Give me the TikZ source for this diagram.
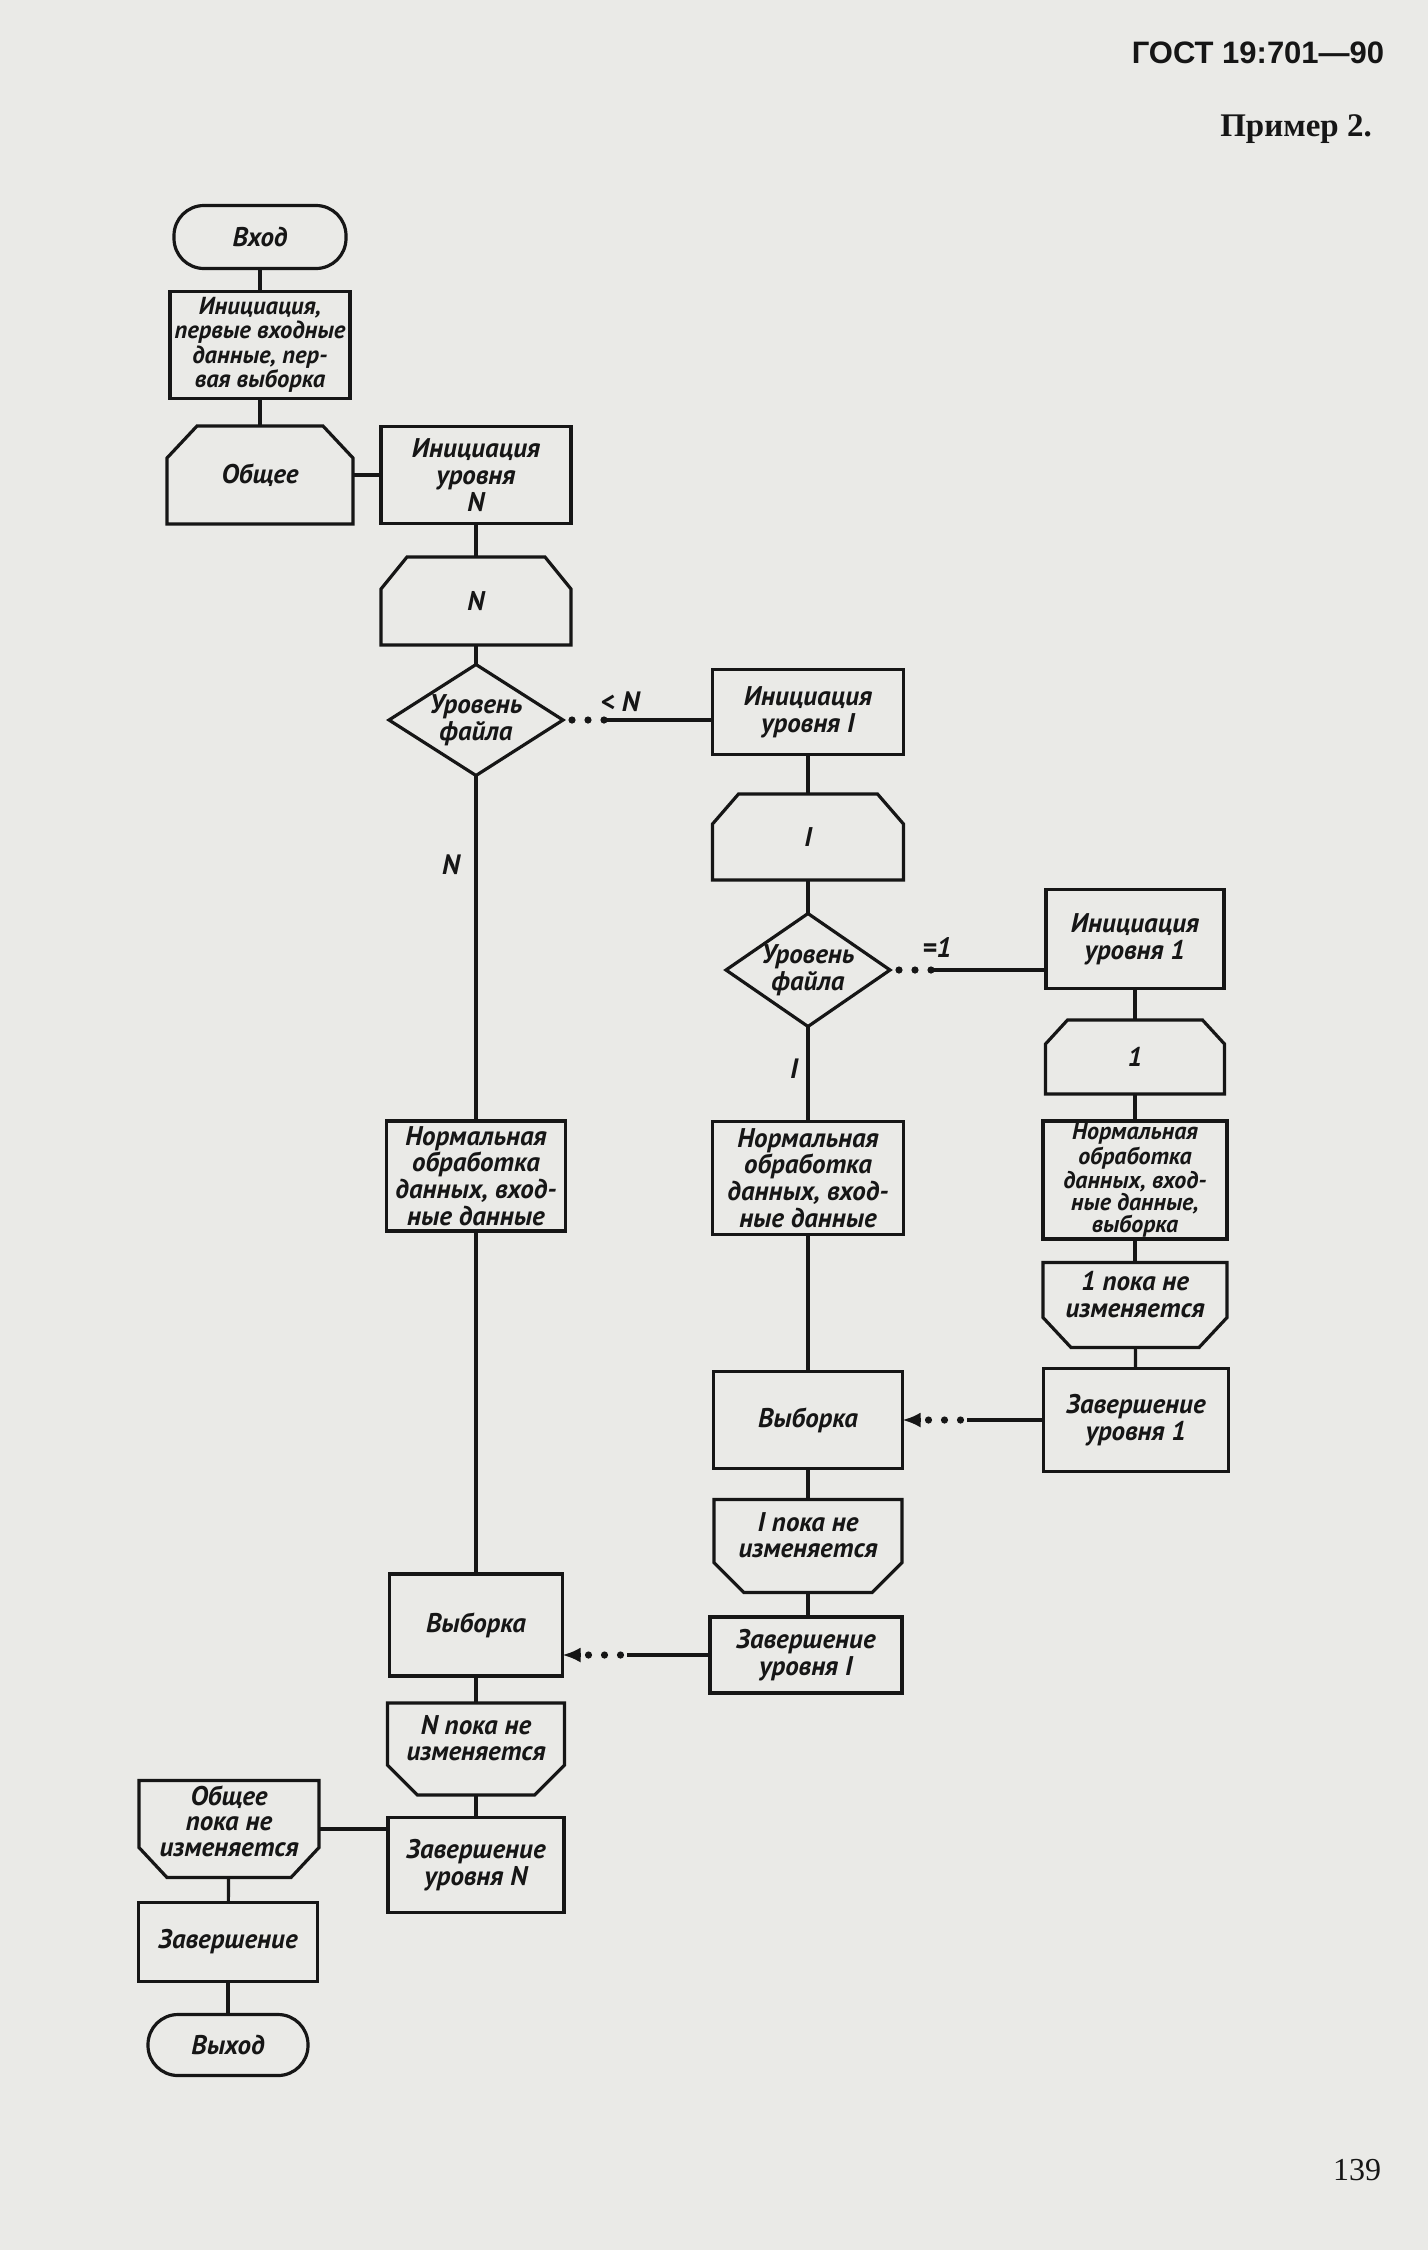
\documentclass[tikz,border=0pt]{standalone}
\usepackage{fontspec}
\setmainfont{PT Sans}
\newfontfamily\hdrsans{Liberation Sans}
\newfontfamily\hdrserif{Liberation Serif}
\usetikzlibrary{arrows.meta,calc}
\definecolor{paper}{RGB}{234,234,231}
\definecolor{ink}{RGB}{22,22,22}
\tikzset{
  base/.style={inner sep=1pt, outer sep=0pt, align=center, text=ink,
    font=\bfseries\itshape\fontsize{13.5}{13.4}\selectfont},
  box/.style={base, draw=ink, line width=1.6pt},
  plain/.style={base},
  endtxt/.style={text depth=11pt},
  term/.style={base, draw=ink, line width=1.6pt, rounded corners=15pt},
  outl/.style={draw=ink, line width=1.6pt, line join=miter},
  conn/.style={draw=ink, line width=1.6pt},
  dots/.style={draw=ink, line width=3.6pt, line cap=round, dash pattern=on 0pt off 8pt},
  lab/.style={text=ink, font=\bfseries\itshape\fontsize{14}{12}\selectfont},
  tip/.style={-{Latex[length=9pt,width=7.5pt]}}
}
\newcommand{\chtop}[3]{\draw[outl] ([yshift=-#3]#1.north west) -- ([xshift=#2]#1.north west) -- ([xshift=-#2]#1.north east) -- ([yshift=-#3]#1.north east) -- (#1.south east) -- (#1.south west) -- cycle;}
\newcommand{\chbot}[3]{\draw[outl] (#1.north west) -- (#1.north east) -- ([yshift=#3]#1.south east) -- ([xshift=-#2]#1.south east) -- ([xshift=#2]#1.south west) -- ([yshift=#3]#1.south west) -- cycle;}
\newcommand{\mkdiamond}[1]{\draw[outl] (#1.north) -- (#1.east) -- (#1.south) -- (#1.west) -- cycle;}
\begin{document}
\begin{tikzpicture}[x=0.5pt,y=-0.5pt]
\fill[paper] (0,0) rectangle (1428,2250);
\useasboundingbox (0,0) rectangle (1428,2250);

% header
\node[text=ink, font=\hdrsans\bfseries\fontsize{15.5}{18}\selectfont] (gost) at (1258,53) {ГОСТ 19:701—90};
\node[text=ink, font=\hdrserif\bfseries\fontsize{16.5}{19}\selectfont] (ex) at (1296,129) {Пример 2.};
\node[text=ink, font=\hdrserif\fontsize{16}{19}\selectfont] (pg) at (1357,2170) {139};

% left column
\node[term, minimum width=86pt, minimum height=31.5pt] (vhod) at (260,237) {Вход};
\node[box, minimum width=90pt, minimum height=53.5pt, font=\bfseries\itshape\fontsize{12.3}{12.2}\selectfont] (init) at (260,345) {Инициация,\\первые входные\\данные, пер-\\вая выборка};
\node[plain, minimum width=93pt, minimum height=49pt] (obsh) at (260,475) {Общее};
\chtop{obsh}{15pt}{16pt}

% column N
\node[box, minimum width=95pt, minimum height=48.5pt] (initN) at (476,475) {Инициация\\уровня\\N};
\node[plain, minimum width=95pt, minimum height=44pt] (loopN) at (476,601) {N};
\chtop{loopN}{13pt}{16pt}
\node[plain, minimum width=87pt, minimum height=55.5pt] (dia1) at (476,720) {Уровень\\файла};
\mkdiamond{dia1}
\node[box, minimum width=89.5pt, minimum height=55pt] (normN) at (476,1176) {Нормальная\\обработка\\данных, вход-\\ные данные};
\node[box, minimum width=86.5pt, minimum height=51pt] (vybN) at (476,1625) {Выборка};
\node[plain, endtxt, minimum width=88.5pt, minimum height=46pt] (endN) at (476,1749) {N пока не\\изменяется};
\chbot{endN}{15pt}{15pt}
\node[box, minimum width=88pt, minimum height=47.5pt] (zavN) at (476,1865) {Завершение\\уровня N};

% column I
\node[box, minimum width=95.5pt, minimum height=42.5pt] (initI) at (808,712) {Инициация\\уровня I};
\node[plain, minimum width=95.5pt, minimum height=43pt] (loopI) at (808,837) {I};
\chtop{loopI}{13pt}{15pt}
\node[plain, minimum width=82pt, minimum height=56.5pt] (dia2) at (808,970) {Уровень\\файла};
\mkdiamond{dia2}
\node[box, minimum width=95.5pt, minimum height=56.5pt] (normI) at (808,1178) {Нормальная\\обработка\\данных, вход-\\ные данные};
\node[box, minimum width=94.5pt, minimum height=48.5pt] (vybI) at (808,1420) {Выборка};
\node[plain, endtxt, minimum width=94pt, minimum height=46.5pt] (endI) at (808,1546) {I пока не\\изменяется};
\chbot{endI}{15pt}{15pt}
\node[box, minimum width=96pt, minimum height=38pt] (zavI) at (806,1655) {Завершение\\уровня I};

% column 1
\node[box, minimum width=89pt, minimum height=49.5pt] (init1) at (1135,939) {Инициация\\уровня 1};
\node[plain, minimum width=89.5pt, minimum height=37pt] (loop1) at (1135,1057) {1};
\chtop{loop1}{11pt}{12pt}
\node[box, minimum width=92pt, minimum height=56.5pt, font=\bfseries\itshape\fontsize{12}{11}\selectfont] (norm1) at (1135,1180) {Нормальная\\обработка\\данных, вход-\\ные данные,\\выборка};
\node[plain, endtxt, minimum width=92pt, minimum height=42.5pt] (end1) at (1135,1305) {1 пока не\\изменяется};
\chbot{end1}{14pt}{15pt}
\node[box, minimum width=92.5pt, minimum height=51.5pt] (zav1) at (1136,1420) {Завершение\\уровня 1};

% end part
\node[plain, text depth=8pt, minimum width=90pt, minimum height=48.5pt, font=\bfseries\itshape\fontsize{13.5}{12.8}\selectfont] (obshE) at (229,1829) {Общее\\пока не\\изменяется};
\chbot{obshE}{14pt}{15pt}
\node[box, minimum width=89.5pt, minimum height=39.5pt] (zav) at (228,1942) {Завершение};
\node[term, minimum width=80pt, minimum height=30.5pt] (vyhod) at (228,2045) {Выход};

% connectors
\draw[conn] (vhod) -- (init);
\draw[conn] (init) -- (obsh);
\draw[conn] (obsh.east) -- (initN.west);
\draw[conn] (initN) -- (loopN);
\draw[conn] (loopN) -- (dia1.north);
\draw[conn] (dia1.south) -- (normN.north);
\draw[conn] (normN) -- (vybN);
\draw[conn] (vybN) -- (endN);
\draw[conn] (endN) -- (zavN);
\draw[conn] (zavN.west |- obshE.east) -- (obshE.east);
\draw[conn] (obshE) -- (zav);
\draw[conn] (zav) -- (vyhod);

\draw[dots] ($(dia1.east)+(9,0)$) -- ($(dia1.east)+(41,0)$);
\draw[conn] ($(dia1.east)+(44,0)$) -- (initI.west |- dia1.east);
\draw[conn] (initI) -- (loopI);
\draw[conn] (loopI) -- (dia2.north);
\draw[conn] (dia2.south) -- (normI.north);
\draw[conn] (normI) -- (vybI);
\draw[conn] (vybI) -- (endI);
\draw[conn] (endI.south) -- (zavI.north -| endI.south);

\draw[dots] ($(dia2.east)+(9,0)$) -- ($(dia2.east)+(41,0)$);
\draw[conn] ($(dia2.east)+(44,0)$) -- (init1.west |- dia2.east);
\draw[conn] (init1) -- (loop1);
\draw[conn] (loop1) -- (norm1);
\draw[conn] (norm1) -- (end1);
\draw[conn] (end1) -- (zav1);

% return arrows
\draw[conn] (zav1.west |- vybI.east) -- ($(vybI.east)+(64,0)$);
\draw[dots] ($(vybI.east)+(58,0)$) -- ($(vybI.east)+(26,0)$);
\draw[conn, tip] ($(vybI.east)+(18,0)$) -- (vybI.east);

\draw[conn] (zavI.west) -- ($(vybN.east |- zavI.west)+(64,0)$);
\draw[dots] ($(vybN.east |- zavI.west)+(58,0)$) -- ($(vybN.east |- zavI.west)+(26,0)$);
\draw[conn, tip] ($(vybN.east |- zavI.west)+(18,0)$) -- (vybN.east |- zavI.west);

% labels
\node[lab] (lN) at (620,702) {< N};
\node[lab] (l1) at (937,948) {=1};
\node[lab] (lNn) at (451,865) {N};
\node[lab] (lI) at (794,1069) {I};
\end{tikzpicture}
\end{document}
